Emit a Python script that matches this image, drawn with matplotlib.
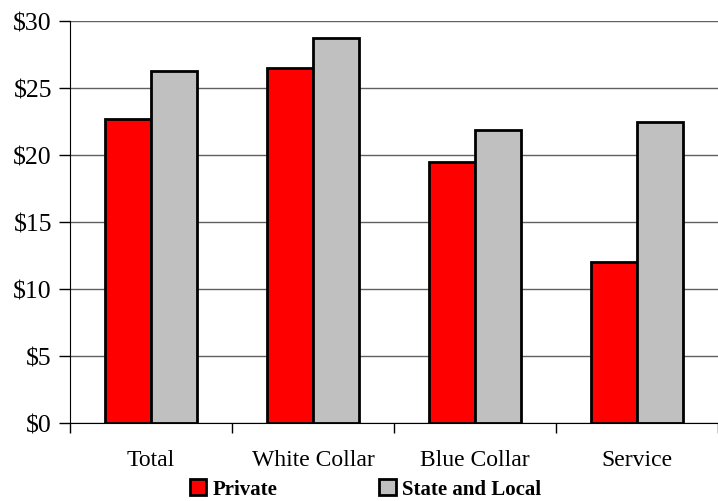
import matplotlib.pyplot as plt
import numpy as np

categories = ['Total', 'White Collar', 'Blue Collar', 'Service']
private = [22.7, 26.5, 19.45, 12.05]
state_local = [26.3, 28.75, 21.85, 22.5]
yticks = [0, 5, 10, 15, 20, 25, 30]

plt.rcParams['font.family'] = 'Liberation Serif'

fig = plt.figure(figsize=(7.18, 5.02), dpi=100)
ax = fig.add_axes([70/718, 78/502, 648/718, 402/502])

x = np.arange(len(categories))
w = 1/3.5
ax.bar(x - w/2, private, w, color='#ff0000', edgecolor='black', linewidth=2, label='Private', zorder=3)
ax.bar(x + w/2, state_local, w, color='#c0c0c0', edgecolor='black', linewidth=2, label='State and Local', zorder=3)

ax.set_xlim(-0.5, len(categories) - 0.5)
ax.set_ylim(0, 30)
ax.set_yticks(yticks)
ax.set_yticklabels(['$%d' % v for v in yticks], fontsize=18.5)
ax.yaxis.grid(True, color='#606060', linewidth=1, zorder=0)

# category labels between boundary ticks
ax.set_xticks(np.arange(len(categories) + 1) - 0.5)
ax.set_xticklabels([])
ax.set_xticks(x, minor=True)
ax.set_xticklabels(categories, minor=True, fontsize=17)
ax.tick_params(axis='x', which='minor', length=0, pad=19)
ax.tick_params(axis='x', which='major', length=7, width=1, direction='out')
ax.tick_params(axis='y', length=8, width=1, direction='out', pad=5)

ax.spines['top'].set_visible(False)
ax.spines['right'].set_visible(False)

fig.legend(loc='center', bbox_to_anchor=(0.509, 0.024), ncol=2, frameon=False,
           prop={'weight': 'bold', 'size': 15}, handlelength=0.8, handleheight=0.8,
           handletextpad=0.3, columnspacing=4.9)

fig.savefig('out.png', dpi=100)
